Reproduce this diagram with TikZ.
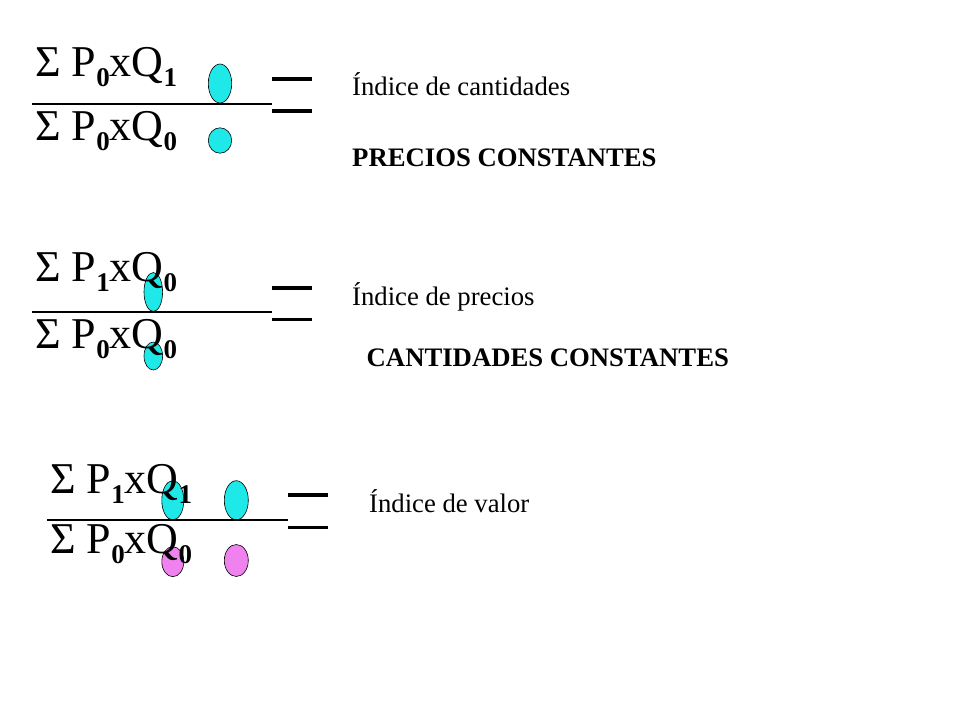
\documentclass[tikz,border=0pt]{standalone}
\usepackage{fontspec}
\setmainfont{Liberation Serif}
\usetikzlibrary{shapes.geometric}
\newcommand\sbs[1]{\raisebox{-10.5pt}{\fontsize{27}{27}\selectfont\bfseries #1}}
\definecolor{ecyan}{RGB}{30,232,232}
\definecolor{emag}{RGB}{240,130,240}
\tikzset{
  frm/.style={anchor=base west,inner sep=0pt,font=\fontsize{44}{44}\selectfont},
  lbl/.style={anchor=base west,inner sep=0pt,font=\fontsize{26.7}{30}\selectfont},
  blbl/.style={lbl,font=\fontsize{26.7}{30}\selectfont\bfseries},
  bar/.style={line width=3.5pt},
  fline/.style={line width=1.1pt},
  ecy/.style={draw=black,line width=0.6pt,fill=ecyan},
  emg/.style={draw=black,line width=0.6pt,fill=emag}
}
\begin{document}
\begin{tikzpicture}[x=1pt,y=-1pt]
\useasboundingbox[fill=white] (0,0) rectangle (960,720);
% ---------- group 1 ----------
\draw[ecy] (220,83.5) ellipse [x radius=11.7,y radius=19.5];
\draw[ecy] (220,140.5) ellipse [x radius=11.7,y radius=12.7];
\node[frm] (n1) at (35,76) {Σ P\sbs{0}xQ\sbs{1}};
\node[frm] (d1) at (35,140) {Σ P\sbs{0}xQ\sbs{0}};
\coordinate (f1a) at (32,104);
\coordinate (f1b) at (272,104);
\draw[fline] (f1a) -- (f1b);
\coordinate (e1a) at (272,79); \coordinate (e1b) at (312,79);
\coordinate (e1c) at (272,111); \coordinate (e1d) at (312,111);
\draw[bar] (e1a) -- (e1b);
\draw[bar] (e1c) -- (e1d);
\node[lbl] (t1) at (352,95) {Índice de cantidades};
\node[blbl] (c1) at (352,166.5) {PRECIOS CONSTANTES};
% ---------- group 2 ----------
\draw[ecy] (153.3,292) ellipse [x radius=9.3,y radius=19.5];
\draw[ecy] (153.3,356) ellipse [x radius=9.3,y radius=14];
\node[frm] (n2) at (35,281) {Σ P\sbs{1}xQ\sbs{0}};
\node[frm] (d2) at (35,348) {Σ P\sbs{0}xQ\sbs{0}};
\coordinate (f2a) at (32,312);
\coordinate (f2b) at (272,312);
\draw[fline] (f2a) -- (f2b);
\coordinate (e2a) at (272,288); \coordinate (e2b) at (312,288);
\coordinate (e2c) at (272,319.5); \coordinate (e2d) at (312,319.5);
\draw[bar] (e2a) -- (e2b);
\draw[bar] (e2c) -- (e2d);
\node[lbl] (t2) at (352,305) {Índice de precios};
\node[blbl] (c2) at (366.5,366.5) {CANTIDADES CONSTANTES};
% ---------- group 3 ----------
\draw[ecy] (172.8,500.3) ellipse [x radius=11,y radius=19.7];
\draw[emg] (172.8,561.7) ellipse [x radius=11,y radius=15];
\draw[ecy] (236.3,500.3) ellipse [x radius=12,y radius=19.6];
\draw[emg] (236.3,560.5) ellipse [x radius=12,y radius=16];
\node[frm] (n3) at (50,493) {Σ P\sbs{1}xQ\sbs{1}};
\node[frm] (d3) at (50,553) {Σ P\sbs{0}xQ\sbs{0}};
\coordinate (f3a) at (47,520);
\coordinate (f3b) at (288,520);
\draw[fline] (f3a) -- (f3b);
\coordinate (e3a) at (288,495); \coordinate (e3b) at (328,495);
\coordinate (e3c) at (288,527.5); \coordinate (e3d) at (328,527.5);
\draw[bar] (e3a) -- (e3b);
\draw[bar] (e3c) -- (e3d);
\node[lbl] (t3) at (369,512.5) {Índice de valor};
\end{tikzpicture}
\end{document}
